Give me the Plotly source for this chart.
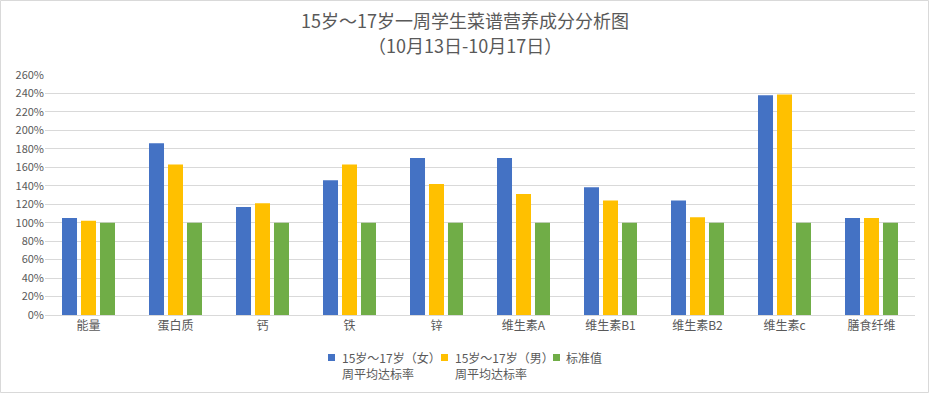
import plotly.graph_objects as go

categories = ["能量", "蛋白质", "钙", "铁", "锌", "维生素A", "维生素B1", "维生素B2", "维生素c", "膳食纤维"]
female = [1.05, 1.86, 1.17, 1.46, 1.70, 1.70, 1.385, 1.24, 2.38, 1.05]
male = [1.02, 1.63, 1.21, 1.63, 1.42, 1.31, 1.24, 1.06, 2.39, 1.05]
standard = [1.0, 1.0, 1.0, 1.0, 1.0, 1.0, 1.0, 1.0, 1.0, 1.0]
series_names = ["15岁～17岁（女）<br>周平均达标率", "15岁～17岁（男）<br>周平均达标率", "标准值"]
colors = ["#4472C4", "#FFC000", "#70AD47"]
title_lines = ["15岁～17岁一周学生菜谱营养成分分析图", "（10月13日-10月17日）"]

W, H = 930, 394
ml, mr, mt, mb = 45, 15, 75, 79
PW, PH = W - ml - mr, H - mt - mb


def px(x):
    return (x - ml) / PW


def py(y):
    return (H - mb - y) / PH


font = "Noto Sans CJK SC, Microsoft YaHei, sans-serif"
grey = "#595959"

fig = go.Figure()
for name, vals, c in zip(series_names, [female, male, standard], colors):
    fig.add_trace(go.Bar(x=categories, y=vals, name=name, showlegend=False,
                         hovertemplate="%{x}: %{y:.0%}<extra></extra>",
                         marker=dict(color=c, line=dict(width=0))))

fig.update_layout(
    width=W, height=H,
    margin=dict(l=ml, r=mr, t=mt, b=mb, autoexpand=False),
    paper_bgcolor="white", plot_bgcolor="white",
    barmode="group", bargap=0.345, bargroupgap=0.21,
    font=dict(family=font, color=grey, size=12),
    xaxis=dict(showgrid=False, showline=True, linecolor="#d9d9d9", linewidth=1,
               ticks="", tickfont=dict(size=12, color=grey), fixedrange=True, automargin=False),
    yaxis=dict(range=[0, 2.6], dtick=0.2, tickformat=".0%", showgrid=True,
               gridcolor="#d9d9d9", gridwidth=1, zeroline=False, showline=False,
               tickfont=dict(size=11, color=grey), ticks="", fixedrange=True, automargin=False),
    showlegend=False,
)

# title (two lines)
for text, yc in zip(title_lines, [20, 45]):
    fig.add_annotation(text=text, xref="paper", yref="paper", x=px(W / 2), y=py(yc),
                       xanchor="center", yanchor="middle", showarrow=False,
                       font=dict(size=18, color=grey, family=font))

# custom legend built from series names / colors
leg_sq_x = [328, 441, 553]
leg_tx_x = [340, 453, 564]
line_y = [357, 373]
for name, c, sx, tx in zip(series_names, colors, leg_sq_x, leg_tx_x):
    fig.add_shape(type="rect", xref="paper", yref="paper",
                  x0=px(sx), x1=px(sx + 7), y0=py(354), y1=py(361),
                  fillcolor=c, line=dict(width=0))
    for part, ly in zip(name.split("<br>"), line_y):
        fig.add_annotation(text=part, xref="paper", yref="paper", x=px(tx), y=py(ly),
                           xanchor="left", yanchor="middle", align="left", showarrow=False,
                           font=dict(size=12, color=grey, family=font))

# outer chart border
fig.add_shape(type="rect", xref="paper", yref="paper",
              x0=px(0.5), x1=px(928.5), y0=py(392.5), y1=py(0.5),
              line=dict(color="#d9d9d9", width=1), fillcolor="rgba(0,0,0,0)", layer="below")

fig.write_html("out.html", config={"displayModeBar": False},
               post_script="document.body.style.margin='0';document.body.style.overflow='hidden';")
